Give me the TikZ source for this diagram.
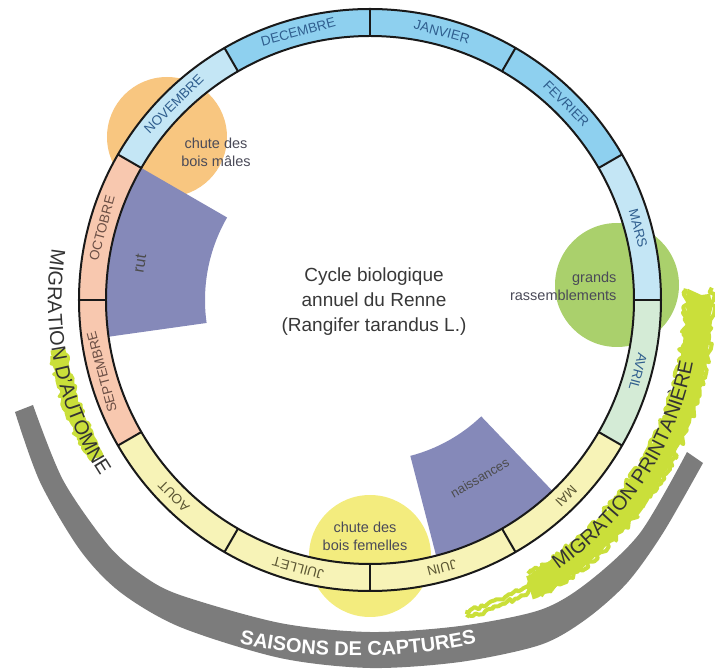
\documentclass[tikz,border=0pt]{standalone}
\usepackage{fontspec}
\setmainfont{Liberation Sans}
\usetikzlibrary{decorations.text,decorations.pathmorphing}

\definecolor{moisbleu}{HTML}{8ED0EF}
\definecolor{moisclair}{HTML}{C4E6F5}
\definecolor{moisvert}{HTML}{D4EBD6}
\definecolor{moisjaune}{HTML}{F7F3B7}
\definecolor{moisrose}{HTML}{F8C8AF}
\definecolor{encrebleu}{HTML}{2F5E8E}
\definecolor{encrebrun}{HTML}{6A4E44}
\definecolor{encreolive}{HTML}{5B5633}
\definecolor{boisorange}{HTML}{F8C680}
\definecolor{rassvert}{HTML}{AAD06C}
\definecolor{boisjaune}{HTML}{F3EC7E}
\definecolor{periode}{HTML}{8589B9}
\definecolor{capture}{HTML}{7C7C7C}
\definecolor{pinceau}{HTML}{CADF3A}
\definecolor{legendetexte}{HTML}{4A4A58}

\begin{document}
\begin{tikzpicture}[x=1pt,y=1pt,
    mois/.style={font=\fontsize{13.5}{14}\selectfont},
    legende/.style={font=\fontsize{14.5}{18}\selectfont, text=legendetexte, align=center},
    anneau/.style={line width=2pt, draw=black!90},
    brosse/.style={pinceau, line join=round, decorate,
      decoration={random steps, segment length=3pt, amplitude=1.2pt}}]
  \useasboundingbox (-370,-371) rectangle (345,300);
  \coordinate (O) at (0,0);
  \def\Rext{291}
  \def\Rint{264}
  \def\Rmid{277.5}

  % saisons de captures (grey band)
  \fill[capture] plot[smooth] coordinates {(-337,-105) (-307,-180) (-262,-245) (-228,-275) (-190,-295)
      (-90,-323) (0,-332) (90,-326) (170,-310) (217,-283) (270,-233) (317,-152)}
    -- plot[smooth] coordinates {(333,-163) (293,-233) (257,-283) (215,-320) (170,-345) (90,-362)
      (0,-368) (-90,-358) (-190,-327) (-250,-292) (-290,-250) (-330,-182) (-355,-112)} -- cycle;
  \path[decorate, decoration={text along path, text align=center,
      text={|\fontsize{20}{20}\selectfont\bfseries\color{white}|SAISONS DE CAPTURES}}]
    (-12,204) ++(250:560) arc (250:290:560);

  % migrations
  \draw[brosse, line width=15pt] (189:316) arc (189:210:316);
  \foreach \dr in {-7,7}
    \draw[brosse, line width=3pt, decoration={amplitude=2.5pt}] (190:316+\dr) arc (190:208:316+\dr);
  \draw[brosse, line width=24pt] (299:329) arc (299:361:329);
  \foreach \dr in {-13,13}
    \draw[brosse, line width=4pt, decoration={amplitude=3pt}] (300:329+\dr) arc (300:362:329+\dr);
  \foreach \dr in {-3,3}
    \draw[brosse, line width=4pt, decoration={amplitude=2pt}] (287:329+\dr) arc (287:301:329+\dr);
  \path[decorate, decoration={text along path, text align=center,
      text={|\fontsize{20}{20}\selectfont\color{black!80}|MIGRATION D'AUTOMNE}}]
    (160:322) arc (160:224:322);
  \path[decorate, decoration={text along path, text align=center,
      text={|\fontsize{20}{20}\selectfont\color{black!80}|MIGRATION PRINTANIÈRE}}]
    (297:329) arc (297:357:329);

  % events
  \fill[boisorange] (-203,163) circle (60);
  \fill[rassvert] (247,15) circle (62);
  \fill[boisjaune] (0,-256) circle (61);

  \fill[periode] (150:\Rext) arc (150:188:\Rext) -- (188:165) arc (188:150:165) -- cycle; % rut
  \fill[periode] (284.5:\Rext) arc (284.5:313.7:\Rext) -- (313.7:161) arc (313.7:284.5:161) -- cycle; % naissances

  % months ring
  \foreach \nom/\fond/\encre [count=\i from 0] in {MARS/moisclair/encrebleu, FEVRIER/moisbleu/encrebleu,
      JANVIER/moisbleu/encrebleu, DECEMBRE/moisbleu/encrebleu, NOVEMBRE/moisclair/encrebleu,
      OCTOBRE/moisrose/encrebrun, SEPTEMBRE/moisrose/encrebrun, AOUT/moisjaune/encreolive,
      JUILLET/moisjaune/encreolive, JUIN/moisjaune/encreolive, MAI/moisjaune/encreolive,
      AVRIL/moisvert/encrebleu} {
    \pgfmathsetmacro\a{30*\i}
    \pgfmathsetmacro\b{30*\i+30}
    \pgfmathsetmacro\m{30*\i+15}
    \fill[\fond] (\a:\Rint) arc[start angle=\a, end angle=\b, radius=\Rint]
      -- (\b:\Rext) arc[start angle=\b, end angle=\a, radius=\Rext] -- cycle;
    \node[mois, text=\encre, rotate=\m-90] (mois\i) at (\m:\Rmid) {\nom};
  }
  \foreach \a in {0,30,...,330}
    \draw[anneau] (\a:\Rint) -- (\a:\Rext);
  \draw[anneau] (O) circle (\Rext);
  \draw[anneau] (O) circle (\Rint);

  % labels
  \node[font=\fontsize{16}{16}\selectfont, text=black!70, rotate=81] (rut) at (171:233) {rut};
  \node[font=\fontsize{13}{13}\selectfont, text=black!70, rotate=30] (naissances) at (301.7:209) {naissances};
  \node[legende] (chutemales) at (-154,148) {chute des\\bois mâles};
  \node[legende, align=right, anchor=east] (rassemblements) at (250,14) {grands\\rassemblements};
  \node[legende] (chutefemelles) at (-5,-236) {chute des\\bois femelles};
  \node[font=\fontsize{19}{25}\selectfont, text=black!78, align=center] (titre) at (4,-2)
    {Cycle biologique\\annuel du Renne\\(Rangifer tarandus L.)};
\end{tikzpicture}
\end{document}
